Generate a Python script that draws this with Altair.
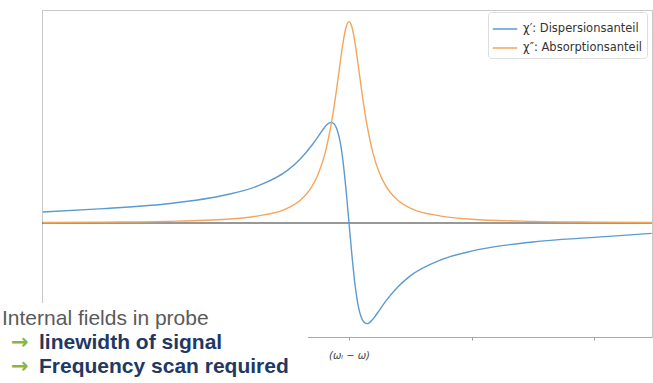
import altair as alt
import pandas as pd

# x positions (units of tick spacing, 0 = resonance)
xs = [-2.5, -2.0, -1.5, -1.0, -0.75, -0.5, -0.4, -0.3, -0.25, -0.2, -0.175, -0.15, -0.125, -0.1,
      -0.075, -0.05, -0.025, 0.0, 0.025, 0.05, 0.075, 0.1, 0.125, 0.15, 0.175, 0.2, 0.25, 0.3,
      0.4, 0.5, 0.75, 1.0, 1.5, 2.0, 2.47]
# dispersion (blue)
disp = [0.19, 0.25, 0.33, 0.49, 0.64, 0.92, 1.11, 1.36, 1.51, 1.66, 1.72, 1.75, 1.73, 1.64,
        1.44, 1.09, 0.59, 0.0, -0.59, -1.09, -1.44, -1.64, -1.73, -1.75, -1.72, -1.66, -1.51, -1.36,
        -1.11, -0.92, -0.64, -0.49, -0.33, -0.25, -0.18]
# absorption (orange)
absn = [0.008, 0.015, 0.028, 0.065, 0.12, 0.26, 0.39, 0.645, 0.86, 1.18, 1.40, 1.665, 1.98, 2.35,
        2.745, 3.12, 3.40, 3.5, 3.40, 3.12, 2.745, 2.35, 1.98, 1.665, 1.40, 1.18, 0.86, 0.645,
        0.39, 0.26, 0.12, 0.065, 0.028, 0.015, 0.008]

series_names = ["χ′: Dispersionsanteil", "χ″: Absorptionsanteil"]
series_colors = ["#5b9bd0", "#f4a65c"]
x_ticks = [-2, -1, 0, 1, 2]
y_ticks = [-1, 0, 1, 2, 3]
x_label = "(ωₗ − ω)"
y_title = "Magnetisierung [a.u.]"
note_lines = ["Internal fields in probe", "linewidth of signal", "Frequency scan required"]
arrow = "→"

rows = []
for x, d, a in zip(xs, disp, absn):
    rows.append({"x": x, "v": d, "s": series_names[0]})
    rows.append({"x": x, "v": a, "s": series_names[1]})
df = pd.DataFrame(rows)

xscale = alt.Scale(domain=[-2.506, 2.473], nice=False, zero=False)
yscale = alt.Scale(domain=[-1.983, 3.704], nice=False, zero=False)

zero = alt.Chart(pd.DataFrame({"y": [0]})).mark_rule(color="#333333", strokeWidth=1.2).encode(
    y=alt.Y("y:Q", scale=yscale, axis=None)
)

lines = alt.Chart(df).mark_line(strokeWidth=1.4, interpolate="monotone", clip=True).encode(
    x=alt.X("x:Q", scale=xscale, title=None,
            axis=alt.Axis(values=x_ticks, tickSize=3, tickColor="#999", domainColor="#aaa",
                          labelExpr=f"datum.value == 0 ? '{x_label}' : ''",
                          labelFont="DejaVu Sans", labelFontStyle="italic", labelFontSize=10,
                          labelColor="#444", labelPadding=10, grid=False)),
    y=alt.Y("v:Q", scale=yscale,
            axis=alt.Axis(values=y_ticks, tickSize=3, tickColor="#999", domainColor="#aaa",
                          labels=False, grid=False, title=y_title, titleFont="DejaVu Sans",
                          titleFontSize=11, titleFontWeight="normal", titleColor="#333",
                          titleX=-20, titleY=168, titleAngle=-90, titleAlign="center",
                          titleBaseline="middle")),
    color=alt.Color("s:N", sort=series_names,
                    scale=alt.Scale(domain=series_names, range=series_colors),
                    legend=alt.Legend(title=None, orient="none", legendX=446, legendY=2,
                                      symbolType="stroke", symbolSize=600, symbolStrokeWidth=1.5,
                                      labelFont="DejaVu Sans", labelFontSize=11.5, labelColor="#333",
                                      labelOffset=5, padding=4, rowPadding=-2,
                                      strokeColor="#dddddd", fillColor="white", cornerRadius=3)),
    order=alt.Order("x:Q"),
)

cover = alt.Chart(pd.DataFrame({"a": [0]})).mark_rect(color="white").encode(
    x=alt.value(-42), x2=alt.value(266), y=alt.value(293), y2=alt.value(373)
)

def txt(s, x, y, color, weight="normal", size=21, font="Liberation Sans"):
    return alt.Chart(pd.DataFrame({"t": [s]})).mark_text(
        align="left", baseline="alphabetic", color=color, fontSize=size,
        fontWeight=weight, font=font
    ).encode(x=alt.value(x), y=alt.value(y), text="t:N")

t1 = txt(note_lines[0], -40, 315, "#5a5a5a")
a2 = txt(arrow, -31, 339, "#8db43c", "bold", 21, "DejaVu Sans")
t2 = txt(note_lines[1], -3, 339, "#1f3864", "bold")
a3 = txt(arrow, -31, 363, "#8db43c", "bold", 21, "DejaVu Sans")
t3 = txt(note_lines[2], -3, 363, "#1f3864", "bold")

chart = alt.layer(zero, lines, cover, t1, a2, t2, a3, t3).properties(
    width=610, height=327,
    autosize=alt.AutoSizeParams(type="none"),
    padding={"left": 42, "top": 10, "right": 1, "bottom": 46},
).configure_view(stroke="#c8c8c8")

chart.save("out.html", embed_options={"renderer": "svg", "actions": False})
